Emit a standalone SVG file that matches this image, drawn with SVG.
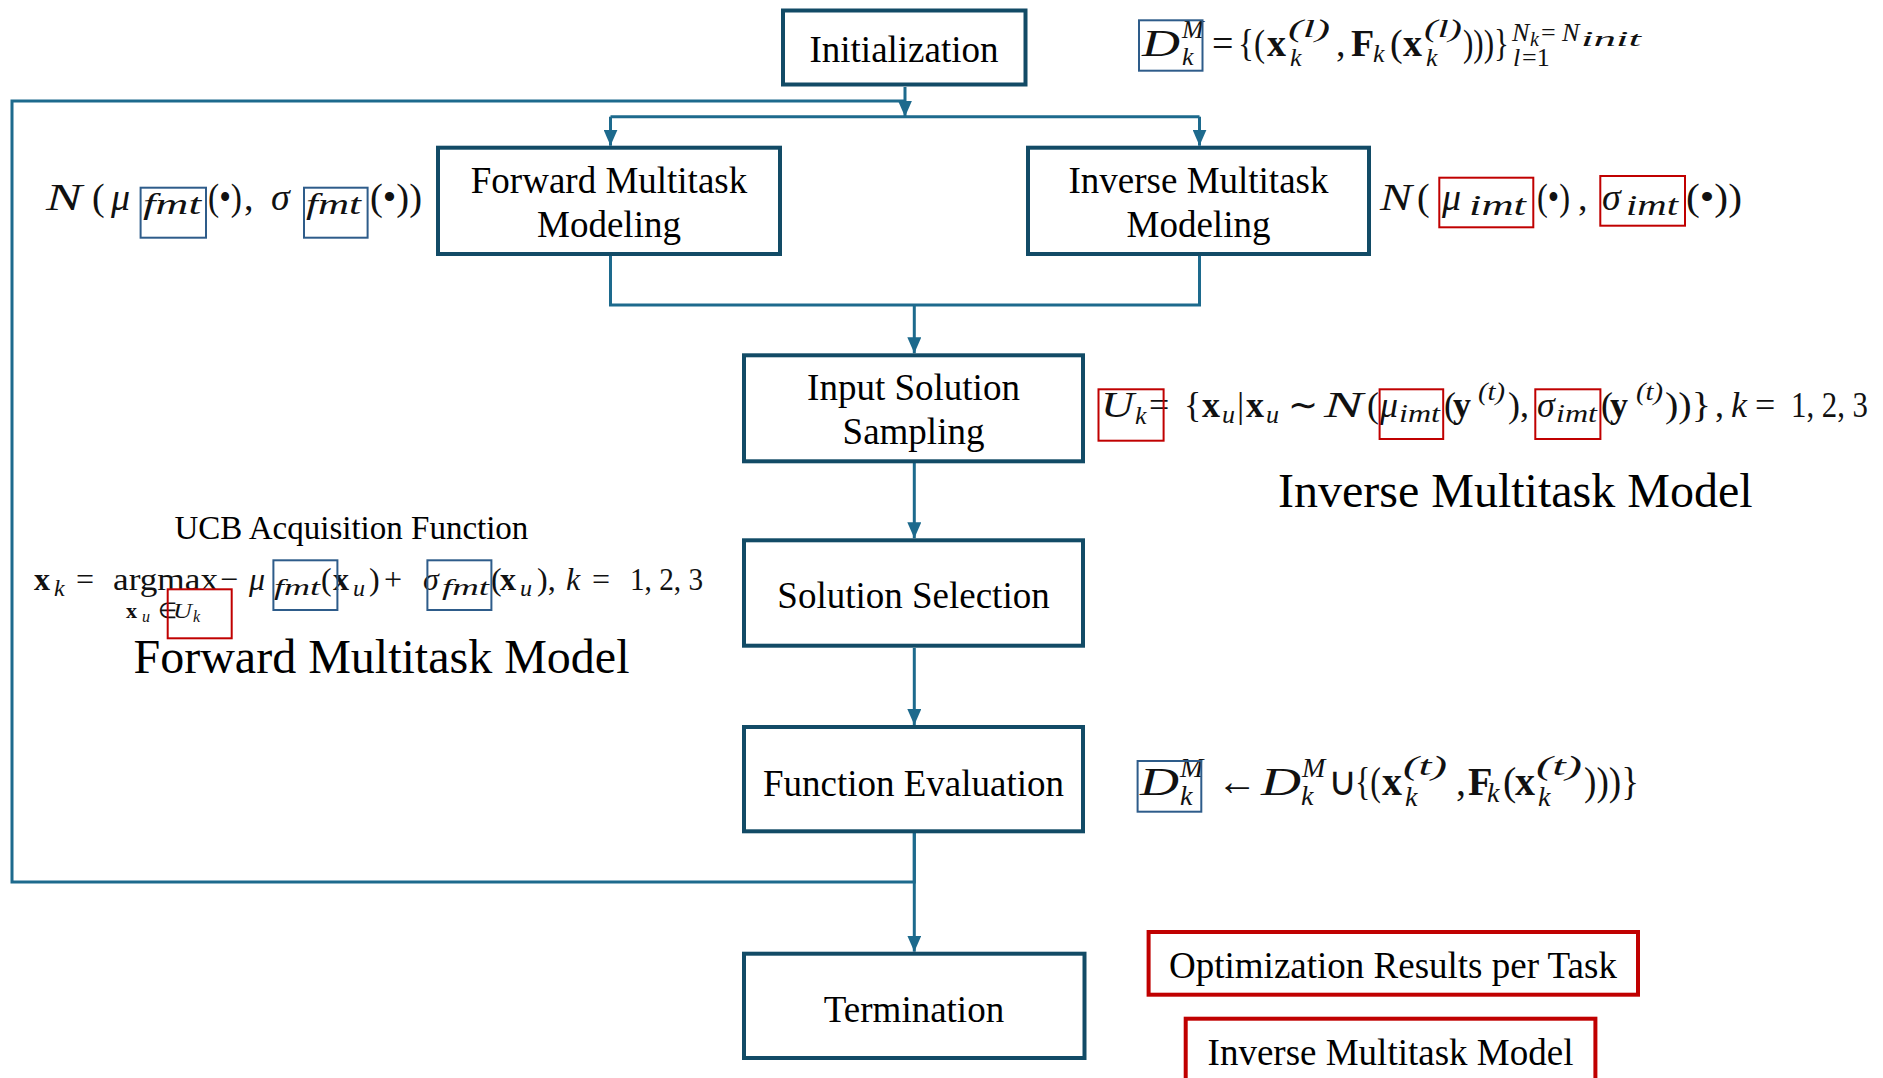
<svg xmlns="http://www.w3.org/2000/svg" width="1883" height="1078" viewBox="0 0 1883 1078">
  <style>
    .node rect { fill: #ffffff; stroke: #124B66; stroke-width: 4; }
    .lbl { font-family: "Liberation Serif", "Times New Roman", serif; font-size: 37px; fill: #000; text-anchor: middle; }
    .big { font-family: "Liberation Serif", "Times New Roman", serif; font-size: 48px; fill: #000; }
    .cap { font-family: "Liberation Serif", "Times New Roman", serif; font-size: 33px; fill: #000; }
    .conn { fill: none; stroke: #1D6A8D; stroke-width: 3; }
    .m { font-family: "Liberation Serif", "Times New Roman", serif; fill: #111; }
    .i { font-style: italic; }
    .b { font-weight: bold; }
    .hb { fill: none; stroke: #2E5C8A; stroke-width: 2; }
    .hr { fill: none; stroke: #C00000; stroke-width: 2; }
    .out rect { fill: #ffffff; stroke: #C00000; stroke-width: 4; }
  </style>
  <defs>
    <marker id="arr" markerUnits="userSpaceOnUse" markerWidth="16" markerHeight="14" refX="16" refY="7" orient="auto">
      <path d="M0,0 L16,7 L0,14 z" fill="#1D6A8D"/>
    </marker>
  </defs>

  <rect width="1883" height="1078" fill="#ffffff"/>

  <!-- connectors -->
  <g id="connectors">
    <path class="conn" d="M905,87 V116.7" marker-end="url(#arr)"/>
    <path class="conn" d="M914.3,833 V882 H12 V101 H905"/>
    <path class="conn" d="M610.5,116.7 H1199.5"/>
    <path class="conn" d="M610.5,116.7 V145.7" marker-end="url(#arr)"/>
    <path class="conn" d="M1199.5,116.7 V145.7" marker-end="url(#arr)"/>
    <path class="conn" d="M610.5,256 V305 H1199.5 V256"/>
    <path class="conn" d="M914.3,305 V353.3" marker-end="url(#arr)"/>
    <path class="conn" d="M914.3,463 V538.3" marker-end="url(#arr)"/>
    <path class="conn" d="M914.3,648 V725" marker-end="url(#arr)"/>
    <path class="conn" d="M914.3,833 V951.7" marker-end="url(#arr)"/>
  </g>

  <!-- process nodes -->
  <g id="initialization" class="node">
    <rect x="783" y="10.5" width="242.5" height="74"/>
    <text class="lbl" x="904" y="62">Initialization</text>
  </g>
  <g id="forward-modeling" class="node">
    <rect x="438" y="147.7" width="342" height="106.3"/>
    <text class="lbl" x="609" y="193">Forward Multitask</text>
    <text class="lbl" x="609" y="237">Modeling</text>
  </g>
  <g id="inverse-modeling" class="node">
    <rect x="1028" y="147.7" width="341" height="106.3"/>
    <text class="lbl" x="1198.5" y="193">Inverse Multitask</text>
    <text class="lbl" x="1198.5" y="237">Modeling</text>
  </g>
  <g id="input-sampling" class="node">
    <rect x="744" y="355.3" width="339" height="106"/>
    <text class="lbl" x="913.5" y="400">Input Solution</text>
    <text class="lbl" x="913.5" y="444">Sampling</text>
  </g>
  <g id="solution-selection" class="node">
    <rect x="744" y="540.3" width="339" height="105.4"/>
    <text class="lbl" x="913.5" y="608">Solution Selection</text>
  </g>
  <g id="function-evaluation" class="node">
    <rect x="744" y="727" width="339" height="104.3"/>
    <text class="lbl" x="913.5" y="796">Function Evaluation</text>
  </g>
  <g id="termination" class="node">
    <rect x="744" y="953.7" width="340.5" height="104.3"/>
    <text class="lbl" x="914" y="1022">Termination</text>
  </g>

  <!-- outputs -->
  <g id="results-per-task" class="out">
    <rect x="1148.6" y="932" width="489.4" height="62.7"/>
    <text class="lbl" x="1393" y="978">Optimization Results per Task</text>
  </g>
  <g id="inverse-model-output" class="out">
    <rect x="1185.7" y="1018.7" width="409.7" height="80"/>
    <text class="lbl" x="1390.5" y="1065">Inverse Multitask Model</text>
  </g>

  <!-- section captions -->
  <text class="big" x="1278" y="507">Inverse Multitask Model</text>
  <text class="big" x="133.5" y="673">Forward Multitask Model</text>
  <text class="cap" x="174.5" y="539">UCB Acquisition Function</text>

  <!-- initial dataset -->
  <g id="eq-init-data">
    <text class="m" font-size="38"><tspan class="i" x="1142" y="56" textLength="38" lengthAdjust="spacingAndGlyphs">D</tspan><tspan x="1212" y="56">=</tspan><tspan x="1238" y="56" textLength="27" lengthAdjust="spacingAndGlyphs">{(</tspan><tspan class="b" x="1267" y="56">x</tspan><tspan x="1336" y="56">,</tspan><tspan class="b" x="1351" y="56">F</tspan><tspan x="1390" y="56">(</tspan><tspan class="b" x="1403" y="56">x</tspan><tspan x="1463" y="56" textLength="46" lengthAdjust="spacingAndGlyphs">)))}</tspan></text>
    <text class="m i" font-size="26"><tspan x="1182" y="38">M</tspan><tspan x="1182" y="65">k</tspan><tspan x="1288" y="37" textLength="42" lengthAdjust="spacingAndGlyphs">(l)</tspan><tspan x="1290" y="66">k</tspan><tspan x="1373" y="62">k</tspan><tspan x="1424" y="37" textLength="38" lengthAdjust="spacingAndGlyphs">(l)</tspan><tspan x="1426" y="66">k</tspan><tspan x="1512" y="41">N</tspan><tspan x="1562" y="41">N</tspan><tspan x="1513" y="66">l</tspan></text>
    <text class="m" font-size="26"><tspan x="1541" y="41">=</tspan><tspan x="1522" y="66">=1</tspan></text>
    <text class="m i" font-size="20"><tspan x="1530" y="46">k</tspan><tspan x="1581" y="46" textLength="60" lengthAdjust="spacingAndGlyphs">init</tspan></text>
    <rect class="hb" x="1139" y="20.3" width="63.5" height="50.4"/>
  </g>

  <!-- forward model distribution -->
  <g id="eq-forward-dist">
    <text class="m" font-size="38"><tspan class="i" x="46" y="210" textLength="36" lengthAdjust="spacingAndGlyphs">N</tspan><tspan x="92" y="210">(</tspan><tspan class="i" x="111" y="210">μ</tspan><tspan x="208" y="210" textLength="34" lengthAdjust="spacingAndGlyphs">(•)</tspan><tspan x="244" y="210">,</tspan><tspan class="i" x="271" y="210">σ</tspan><tspan x="370" y="210" textLength="52" lengthAdjust="spacingAndGlyphs">(•))</tspan></text>
    <text class="m i" font-size="30"><tspan x="143" y="214" textLength="58" lengthAdjust="spacingAndGlyphs">fmt</tspan><tspan x="306" y="214" textLength="55" lengthAdjust="spacingAndGlyphs">fmt</tspan></text>
    <rect class="hb" x="140.6" y="187.7" width="65.4" height="50"/>
    <rect class="hb" x="304" y="187.7" width="63.6" height="50"/>
  </g>

  <!-- inverse model distribution -->
  <g id="eq-inverse-dist">
    <text class="m" font-size="38"><tspan class="i" x="1380" y="210" textLength="32" lengthAdjust="spacingAndGlyphs">N</tspan><tspan x="1417" y="210">(</tspan><tspan class="i" x="1442" y="210">μ</tspan><tspan x="1537" y="210" textLength="33" lengthAdjust="spacingAndGlyphs">(•)</tspan><tspan x="1578" y="210">,</tspan><tspan class="i" x="1602" y="210">σ</tspan><tspan x="1686" y="210" textLength="56" lengthAdjust="spacingAndGlyphs">(•))</tspan></text>
    <text class="m i" font-size="30"><tspan x="1469" y="215" textLength="57" lengthAdjust="spacingAndGlyphs">imt</tspan><tspan x="1626" y="215" textLength="52" lengthAdjust="spacingAndGlyphs">imt</tspan></text>
    <rect class="hr" x="1439.3" y="177.7" width="94" height="49.6"/>
    <rect class="hr" x="1600.3" y="176" width="84.7" height="49.7"/>
  </g>

  <!-- candidate set sampled from inverse model -->
  <g id="eq-sampling">
    <text class="m" font-size="36"><tspan class="i" x="1101" y="417" textLength="33" lengthAdjust="spacingAndGlyphs">U</tspan><tspan x="1149" y="417">=</tspan><tspan x="1184" y="417">{</tspan><tspan class="b" x="1202" y="417">x</tspan><tspan x="1237" y="417">|</tspan><tspan class="b" x="1246" y="417">x</tspan><tspan x="1288" y="417">∼</tspan><tspan class="i" x="1324" y="417" textLength="39" lengthAdjust="spacingAndGlyphs">N</tspan><tspan x="1367" y="417">(</tspan><tspan class="i" x="1380" y="417">μ</tspan><tspan x="1444" y="417">(</tspan><tspan class="b" x="1453" y="417">y</tspan><tspan x="1508" y="417">),</tspan><tspan class="i" x="1537" y="417">σ</tspan><tspan x="1601" y="417">(</tspan><tspan class="b" x="1610" y="417">y</tspan><tspan x="1665" y="417" textLength="46" lengthAdjust="spacingAndGlyphs">))}</tspan><tspan x="1715" y="417">,</tspan><tspan class="i" x="1731" y="417">k</tspan><tspan x="1755" y="417">=</tspan><tspan x="1791" y="417" textLength="77" lengthAdjust="spacingAndGlyphs">1, 2, 3</tspan></text>
    <text class="m i" font-size="26"><tspan x="1135" y="424">k</tspan><tspan x="1222" y="423">u</tspan><tspan x="1266" y="423">u</tspan><tspan x="1399" y="422" textLength="41" lengthAdjust="spacingAndGlyphs">imt</tspan><tspan x="1478" y="400" textLength="27" lengthAdjust="spacingAndGlyphs">(t)</tspan><tspan x="1556" y="422" textLength="41" lengthAdjust="spacingAndGlyphs">imt</tspan><tspan x="1636" y="400" textLength="27" lengthAdjust="spacingAndGlyphs">(t)</tspan></text>
    <rect class="hr" x="1098.5" y="389.3" width="65.1" height="51.4"/>
    <rect class="hr" x="1379.6" y="389.3" width="63.6" height="49.7"/>
    <rect class="hr" x="1535.3" y="389.3" width="65.1" height="49.7"/>
  </g>

  <!-- UCB acquisition -->
  <g id="eq-ucb">
    <text class="m" font-size="32"><tspan class="b" x="34" y="590">x</tspan><tspan x="76" y="590">=</tspan><tspan x="113" y="590" textLength="105" lengthAdjust="spacingAndGlyphs">argmax</tspan><tspan x="220" y="590">−</tspan><tspan class="i" x="249" y="590">μ</tspan><tspan x="321" y="590">(</tspan><tspan class="b" x="333" y="590">x</tspan><tspan x="369" y="590">)</tspan><tspan x="384" y="590">+</tspan><tspan class="i" x="423" y="590">σ</tspan><tspan x="491" y="590">(</tspan><tspan class="b" x="500" y="590">x</tspan><tspan x="537" y="590">),</tspan><tspan class="i" x="566" y="590">k</tspan><tspan x="592" y="590">=</tspan><tspan x="630" y="590" textLength="73" lengthAdjust="spacingAndGlyphs">1, 2, 3</tspan></text>
    <text class="m i" font-size="24"><tspan x="54" y="596">k</tspan><tspan x="274" y="595" textLength="46" lengthAdjust="spacingAndGlyphs">fmt</tspan><tspan x="353" y="596">u</tspan><tspan x="442" y="595" textLength="47" lengthAdjust="spacingAndGlyphs">fmt</tspan><tspan x="520" y="596">u</tspan></text>
    <text class="m" font-size="22"><tspan class="b" x="126" y="618">x</tspan><tspan x="158" y="618">∈</tspan><tspan class="i" x="173" y="618" textLength="19" lengthAdjust="spacingAndGlyphs">U</tspan></text>
    <text class="m i" font-size="16"><tspan x="142" y="622">u</tspan><tspan x="193" y="622">k</tspan></text>
    <rect class="hb" x="273.4" y="560.3" width="64" height="49.7"/>
    <rect class="hb" x="427.4" y="560.3" width="64" height="49.7"/>
    <rect class="hr" x="167.7" y="589.3" width="64" height="49"/>
  </g>

  <!-- dataset update -->
  <g id="eq-update">
    <text class="m" font-size="40"><tspan class="i" x="1140" y="795" textLength="39" lengthAdjust="spacingAndGlyphs">D</tspan><tspan x="1217" y="795">←</tspan><tspan class="i" x="1261" y="795" textLength="40" lengthAdjust="spacingAndGlyphs">D</tspan><tspan x="1328" y="795">∪</tspan><tspan x="1355" y="795" textLength="26" lengthAdjust="spacingAndGlyphs">{(</tspan><tspan class="b" x="1382" y="795">x</tspan><tspan x="1456" y="795">,</tspan><tspan class="b" x="1468" y="795">F</tspan><tspan x="1503" y="795">(</tspan><tspan class="b" x="1515" y="795">x</tspan><tspan x="1584" y="795" textLength="55" lengthAdjust="spacingAndGlyphs">)))}</tspan></text>
    <text class="m i" font-size="28"><tspan x="1180" y="777">M</tspan><tspan x="1180" y="805">k</tspan><tspan x="1302" y="777">M</tspan><tspan x="1301" y="805">k</tspan><tspan x="1403" y="775" textLength="44" lengthAdjust="spacingAndGlyphs">(t)</tspan><tspan x="1405" y="806">k</tspan><tspan x="1487" y="802">k</tspan><tspan x="1536" y="775" textLength="46" lengthAdjust="spacingAndGlyphs">(t)</tspan><tspan x="1538" y="806">k</tspan></text>
    <rect class="hb" x="1137.6" y="761" width="63.7" height="50.7"/>
  </g>
</svg>
